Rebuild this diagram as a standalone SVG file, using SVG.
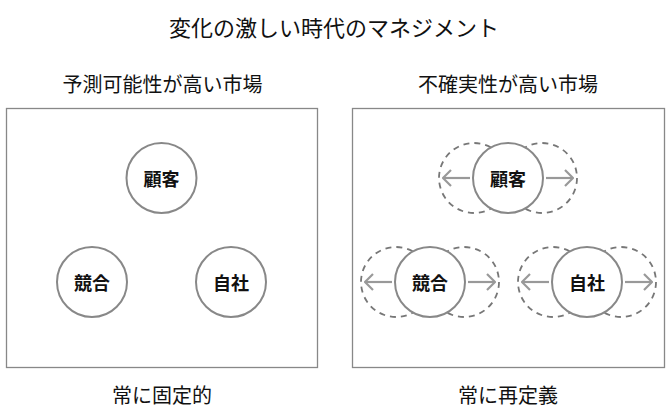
<svg xmlns="http://www.w3.org/2000/svg" width="670" height="415" viewBox="0 0 670 415">
<style>
  text { font-family: "Noto Sans CJK JP", "Noto Sans", sans-serif; fill: #111; text-anchor: middle; }
  .title { font-size: 22px; }
  .sub { font-size: 20px; }
  .lbl { font-size: 18px; font-weight: bold; }
  .box { fill: #fff; stroke: #888; stroke-width: 1.3; }
  .node { fill: #fff; stroke: #888; stroke-width: 2; }
  .ghost { fill: none; stroke: #777; stroke-width: 1.8; stroke-dasharray: 6 5; }
  .arrow { fill: none; stroke: #999; stroke-width: 2.2; marker-end: url(#chev); }
</style>
<defs>
  <marker id="chev" viewBox="0 0 10 18" refX="9" refY="9" markerWidth="10" markerHeight="18" markerUnits="userSpaceOnUse" orient="auto">
    <path d="M1,1 L9,9 L1,17" fill="none" stroke="#999" stroke-width="2.2"/>
  </marker>
</defs>
<rect width="670" height="415" fill="#fff"/>
<g id="titles">
  <text class="title" x="334" y="36">変化の激しい時代のマネジメント</text>
  <text class="sub" x="162.5" y="91.5">予測可能性が高い市場</text>
  <text class="sub" x="508" y="91.5">不確実性が高い市場</text>
  <text class="sub" x="162" y="403">常に固定的</text>
  <text class="sub" x="508" y="403">常に再定義</text>
</g>
<g id="left-panel">
  <rect class="box" x="6.5" y="108.5" width="311" height="259"/>
</g>
<g id="right-panel">
  <rect class="box" x="352.5" y="108.5" width="312" height="259"/>
</g>
<g id="ghosts">
  <circle class="ghost" cx="474" cy="178" r="35"/>
  <circle class="ghost" cx="542" cy="178" r="35"/>
  <circle class="ghost" cx="396" cy="282" r="35"/>
  <circle class="ghost" cx="464" cy="282" r="35"/>
  <circle class="ghost" cx="553" cy="282" r="35"/>
  <circle class="ghost" cx="621" cy="282" r="35"/>
</g>
<g id="connectors">
  <line class="arrow" x1="470" y1="178" x2="443" y2="178"/>
  <line class="arrow" x1="546" y1="178" x2="573" y2="178"/>
  <line class="arrow" x1="392" y1="282" x2="365" y2="282"/>
  <line class="arrow" x1="468" y1="282" x2="495" y2="282"/>
  <line class="arrow" x1="549" y1="282" x2="522" y2="282"/>
  <line class="arrow" x1="625" y1="282" x2="652" y2="282"/>
</g>
<g id="left-customer">
  <circle class="node" cx="161.5" cy="178" r="35"/>
  <text class="lbl" x="161.5" y="186">顧客</text>
</g>
<g id="left-competitor">
  <circle class="node" cx="92" cy="282" r="35"/>
  <text class="lbl" x="92" y="290">競合</text>
</g>
<g id="left-company">
  <circle class="node" cx="231" cy="282" r="35"/>
  <text class="lbl" x="231" y="290">自社</text>
</g>
<g id="right-customer">
  <circle class="node" cx="508" cy="178" r="35"/>
  <text class="lbl" x="508" y="186">顧客</text>
</g>
<g id="right-competitor">
  <circle class="node" cx="430" cy="282" r="35"/>
  <text class="lbl" x="430" y="290">競合</text>
</g>
<g id="right-company">
  <circle class="node" cx="587" cy="282" r="35"/>
  <text class="lbl" x="587" y="290">自社</text>
</g>
</svg>
